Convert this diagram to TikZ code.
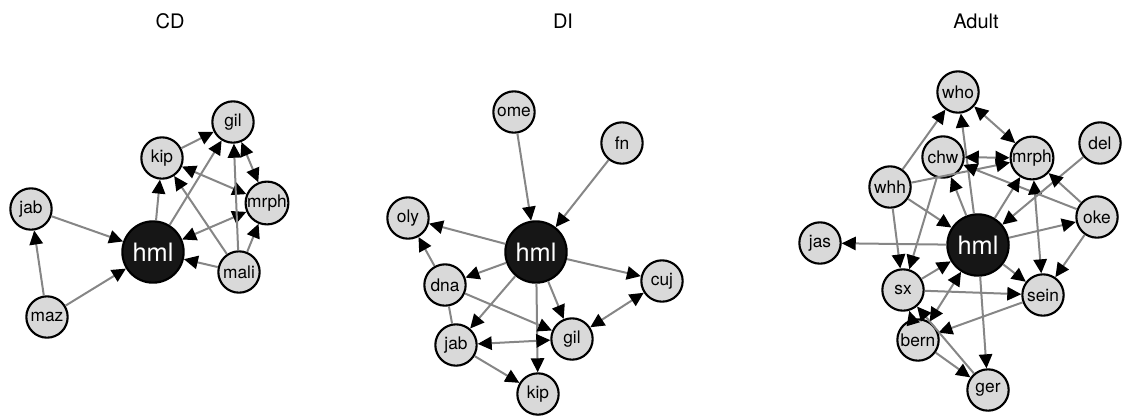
\documentclass[tikz,border=0pt]{standalone}
\usepackage{fontspec}
\setmainfont{TeX Gyre Heros}
\usepackage{tikz}
\usetikzlibrary{arrows.meta}
\definecolor{nodegray}{HTML}{D9D9D9}
\definecolor{hubblack}{HTML}{161616}
\definecolor{edgegray}{HTML}{868686}
\tikzstyle{actor}=[circle, draw=black, line width=1.6pt, fill=nodegray, inner sep=0pt, minimum size=31pt, font=\fontsize{13}{13}\selectfont]
\tikzstyle{hub}=[actor, fill=hubblack, text=white, minimum size=46pt, font=\fontsize{19}{19}\selectfont]
\tikzstyle{panel}=[font=\fontsize{15}{15}\selectfont]
\tikzstyle{tie}=[draw=edgegray, line width=1.5pt]
\tikzset{>={Triangle[length=10.5pt,width=10pt,color=black]}}

\begin{document}
\begin{tikzpicture}[x=0.75pt, y=-0.75pt]
        \useasboundingbox (0,0) rectangle (1123,419);
        % titles
        \node[panel] (tcd) at (170, 21) {CD};
        \node[panel] (tdi) at (563, 21) {DI};
        \node[panel] (tad) at (976, 21) {Adult};

        % CD
        \node[hub]   (cdhml)  at (153, 252) {hml};
        \node[actor] (cdgil)  at (233, 122) {gil};
        \node[actor] (cdkip)  at (162, 158) {kip};
        \node[actor] (cdjab)  at (31, 209)  {jab};
        \node[actor] (cdmrph) at (267, 203) {mrph};
        \node[actor] (cdmali) at (239, 272) {mali};
        \node[actor] (cdmaz)  at (47, 317)  {maz};
        \draw[tie, ->] (cdjab) -- (cdhml);
        \draw[tie, ->] (cdmaz) -- (cdjab);
        \draw[tie, ->] (cdmaz) -- (cdhml);
        \draw[tie, ->] (cdhml) -- (cdkip);
        \draw[tie, ->] (cdhml) -- (cdgil);
        \draw[tie, ->] (cdkip) -- (cdgil);
        \draw[tie, <->] (cdgil) -- (cdmrph);
        \draw[tie, <->] (cdkip) -- (cdmrph);
        \draw[tie, <->] (cdhml) -- (cdmrph);
        \draw[tie, ->] (cdmali) -- (cdhml);
        \draw[tie, ->] (cdmali) -- (cdkip);
        \draw[tie, ->] (cdmali) -- (cdgil);
        \draw[tie, ->] (cdmali) -- (cdmrph);

        % DI
        \node[hub]   (dihml) at (536, 252) {hml};
        \node[actor] (diome) at (514, 112) {ome};
        \node[actor] (difn)  at (622, 143) {fn};
        \node[actor] (dioly) at (408, 218) {oly};
        \node[actor] (dicuj) at (662, 281) {cuj};
        \node[actor] (didna) at (445, 285) {dna};
        \node[actor] (digil) at (572, 339) {gil};
        \node[actor] (dijab) at (456, 345) {jab};
        \node[actor] (dikip) at (538, 394) {kip};
        \draw[tie, ->] (diome) -- (dihml);
        \draw[tie, ->] (difn) -- (dihml);
        \draw[tie, ->] (dihml) -- (dioly);
        \draw[tie, ->] (dihml) -- (didna);
        \draw[tie, ->] (dihml) -- (dicuj);
        \draw[tie, ->] (dihml) -- (dijab);
        \draw[tie, ->] (dihml) -- (digil);
        \draw[tie, ->] (dihml) -- (dikip);
        \draw[tie, ->] (didna) -- (dioly);
        \draw[tie, ->] (didna) -- (digil);
        \draw[tie] (didna) -- (dijab);
        \draw[tie, <->] (dijab) -- (digil);
        \draw[tie, <->] (digil) -- (dicuj);
        \draw[tie, ->] (dijab) -- (dikip);

        % Adult
        \node[hub]   (adhml)  at (978, 245)  {hml};
        \node[actor] (adwho)  at (958, 92)   {who};
        \node[actor] (addel)  at (1100, 143) {del};
        \node[actor] (adchw)  at (943, 157)  {chw};
        \node[actor] (admrph) at (1032, 158) {mrph};
        \node[actor] (adwhh)  at (890, 187)  {whh};
        \node[actor] (adoke)  at (1097, 217) {oke};
        \node[actor] (adjas)  at (820, 243)  {jas};
        \node[actor] (adsx)   at (903, 290)  {sx};
        \node[actor] (adsein) at (1043, 295) {sein};
        \node[actor] (adbern) at (918, 340)  {bern};
        \node[actor] (adger)  at (988, 390)  {ger};
        \draw[tie, ->] (adwhh) -- (adwho);
        \draw[tie, ->] (adhml) -- (adwho);
        \draw[tie, <->] (adwho) -- (admrph);
        \draw[tie, <->] (adchw) -- (admrph);
        \draw[tie, ->] (adwhh) -- (admrph);
        \draw[tie, ->] (adoke) -- (adchw);
        \draw[tie, ->] (adhml) -- (adchw);
        \draw[tie, ->] (adchw) -- (adsx);
        \draw[tie, ->] (adwhh) -- (adsx);
        \draw[tie, ->] (adwhh) -- (adhml);
        \draw[tie, ->] (adsx) -- (adhml);
        \draw[tie, <->] (adhml) -- (adbern);
        \draw[tie, ->] (adsx) -- (adsein);
        \draw[tie, ->] (adhml) -- (adsein);
        \draw[tie, <->] (admrph) -- (adsein);
        \draw[tie, ->] (adsein) -- (adbern);
        \draw[tie, ->] (adbern) -- (adsx);
        \draw[tie, ->] (adger) -- (adsx);
        \draw[tie, ->] (adbern) -- (adger);
        \draw[tie, ->] (adhml) -- (adger);
        \draw[tie, ->] (adhml) -- (adjas);
        \draw[tie, ->] (adhml) -- (adoke);
        \draw[tie, ->] (addel) -- (adhml);
        \draw[tie, ->] (adhml) -- (admrph);
        \draw[tie, ->] (adoke) -- (admrph);
        \draw[tie, ->] (adoke) -- (adsein);
    \end{tikzpicture}
\end{document}
